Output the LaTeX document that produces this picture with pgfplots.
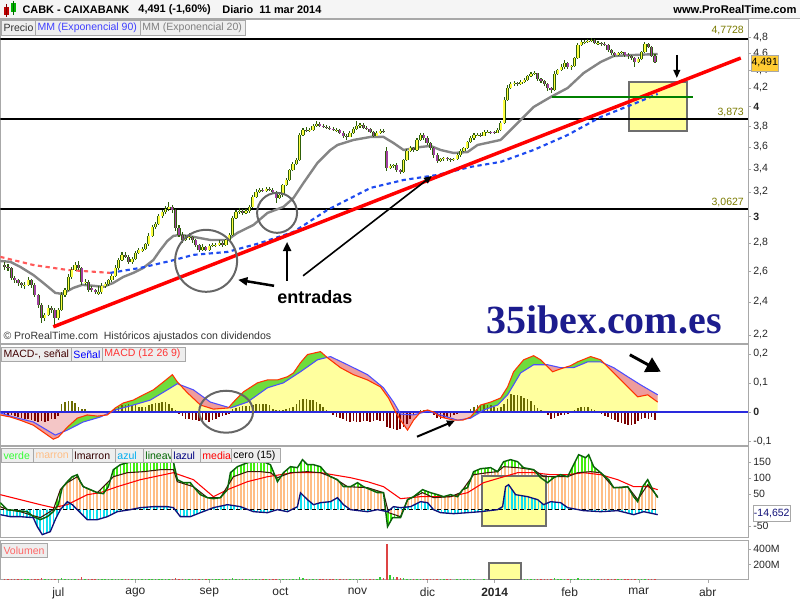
\documentclass[border=0pt]{standalone}
\usepackage{fontspec}
\setmainfont{Liberation Sans}
\newfontfamily\serifb{Liberation Serif}
\usepackage{pgfplots}
\pgfplotsset{compat=1.18}
\usepackage{pgfplotstable}
\usepgfplotslibrary{fillbetween}
\usetikzlibrary{patterns.meta,arrows.meta}
\tikzset{fill between/on layer=main}

\definecolor{wick}{HTML}{2E5E0A}
\definecolor{upc}{HTML}{FFFF40}
\definecolor{dnc}{HTML}{A040A0}
\definecolor{emagray}{HTML}{858585}
\definecolor{emablue}{HTML}{1E4BF0}
\definecolor{emared}{HTML}{FF5A5A}
\definecolor{frame}{HTML}{A8A8A8}
\definecolor{btnbg}{HTML}{EEEEEE}
\definecolor{olivetxt}{HTML}{7A7A00}
\definecolor{histpos}{HTML}{6B6B00}
\definecolor{histneg}{HTML}{7A0000}
\definecolor{macdgreen}{HTML}{6EDC3C}
\definecolor{macdpink}{HTML}{EE9C9C}
\definecolor{macdneg}{HTML}{F4C6C6}
\definecolor{macdyel}{HTML}{FFFF9E}
\definecolor{zeroblue}{HTML}{2A2ADD}
\definecolor{sigblue}{HTML}{4D4DFF}
\definecolor{macdred}{HTML}{FF3300}
\definecolor{peach}{HTML}{FFBE85}
\definecolor{verde}{HTML}{44EE11}
\definecolor{cyanb}{HTML}{11E0F0}
\definecolor{lineavc}{HTML}{0A640A}
\definecolor{lmarronc}{HTML}{3A1A0A}
\definecolor{lazulc}{HTML}{101078}
\definecolor{boxy}{HTML}{FFFF99}
\definecolor{boxb}{HTML}{6E6E6E}
\definecolor{ibex}{HTML}{1C1C8E}
\definecolor{pricebox}{HTML}{FFCC33}
\definecolor{volup}{HTML}{33CC33}
\definecolor{voldn}{HTML}{DD4444}

\newcommand{\lbl}{\fontsize{7.9}{9}\selectfont}

\pgfplotstableread{
i o h l c v
-16 2.640 2.66 2.61 2.629 15
-15 2.629 2.65 2.60 2.622 14
-14 2.622 2.63 2.54 2.554 20
-13 2.554 2.57 2.52 2.541 16
-12 2.541 2.55 2.50 2.521 18
-11 2.521 2.53 2.49 2.508 17
-10 2.500 2.53 2.48 2.508 15
-9 2.508 2.56 2.50 2.541 18
-8 2.541 2.55 2.49 2.508 16
-7 2.508 2.52 2.43 2.443 22
-6 2.443 2.45 2.36 2.380 25
-5 2.380 2.39 2.27 2.300 28
-4 2.300 2.33 2.28 2.318 20
-3 2.318 2.38 2.31 2.361 22
-2 2.361 2.37 2.33 2.349 18
-1 2.349 2.36 2.25 2.300 24
0 2.300 2.36 2.29 2.349 20
1 2.349 2.46 2.34 2.443 30
2 2.443 2.49 2.43 2.475 22
3 2.475 2.58 2.47 2.561 26
4 2.561 2.63 2.55 2.608 24
5 2.608 2.66 2.60 2.643 22
6 2.643 2.67 2.61 2.622 20
7 2.622 2.63 2.51 2.528 45
8 2.520 2.55 2.51 2.528 20
9 2.528 2.54 2.46 2.475 18
10 2.490 2.50 2.46 2.475 16
11 2.475 2.48 2.45 2.462 15
12 2.450 2.50 2.44 2.462 17
13 2.462 2.52 2.45 2.501 18
14 2.501 2.53 2.49 2.515 16
15 2.515 2.55 2.50 2.541 18
16 2.541 2.58 2.53 2.568 20
17 2.568 2.64 2.56 2.622 22
18 2.622 2.69 2.61 2.677 24
19 2.677 2.73 2.67 2.712 20
20 2.712 2.73 2.69 2.698 18
21 2.698 2.71 2.65 2.663 17
22 2.663 2.70 2.65 2.684 16
23 2.684 2.74 2.68 2.726 18
24 2.726 2.76 2.72 2.748 19
25 2.740 2.77 2.73 2.755 17
26 2.755 2.80 2.75 2.791 20
27 2.791 2.87 2.78 2.851 24
28 2.851 2.93 2.84 2.919 26
29 2.919 2.96 2.90 2.942 22
30 2.942 3.02 2.93 3.004 25
31 3.004 3.05 2.99 3.036 22
32 3.036 3.08 3.02 3.060 20
33 3.060 3.12 3.04 3.076 24
34 3.076 3.09 3.03 3.052 18
35 3.052 3.06 2.89 2.911 30
36 2.911 2.93 2.84 2.858 24
37 2.858 2.88 2.80 2.821 20
38 2.821 2.86 2.81 2.836 18
39 2.836 2.87 2.82 2.843 16
40 2.843 2.85 2.80 2.821 17
41 2.821 2.83 2.77 2.784 18
42 2.784 2.79 2.73 2.748 20
43 2.748 2.79 2.74 2.770 16
44 2.770 2.78 2.74 2.748 15
45 2.748 2.79 2.74 2.777 17
46 2.777 2.80 2.77 2.784 15
47 2.775 2.80 2.77 2.784 14
48 2.784 2.82 2.78 2.799 16
49 2.799 2.81 2.77 2.784 15
50 2.784 2.83 2.78 2.821 18
51 2.821 2.87 2.81 2.858 20
52 2.858 3.00 2.85 2.989 35
53 2.989 3.05 2.98 3.036 25
54 3.036 3.07 3.02 3.044 20
55 3.044 3.06 3.01 3.028 18
56 3.028 3.06 3.02 3.044 17
57 3.044 3.09 3.03 3.076 19
58 3.076 3.17 3.07 3.157 24
59 3.157 3.22 3.15 3.199 22
60 3.199 3.23 3.19 3.216 20
61 3.216 3.23 3.20 3.207 16
62 3.207 3.24 3.20 3.225 17
63 3.225 3.24 3.21 3.216 15
64 3.216 3.23 3.19 3.199 16
65 3.199 3.21 3.11 3.149 22
66 3.149 3.19 3.14 3.174 18
67 3.174 3.27 3.16 3.258 24
68 3.258 3.32 3.25 3.301 22
69 3.301 3.40 3.29 3.389 26
70 3.389 3.46 3.38 3.443 24
71 3.443 3.50 3.43 3.479 22
72 3.479 3.73 3.47 3.714 40
73 3.714 3.78 3.70 3.763 30
74 3.763 3.79 3.74 3.753 20
75 3.753 3.78 3.74 3.763 18
76 3.763 3.82 3.75 3.803 20
77 3.803 3.85 3.79 3.823 19
78 3.823 3.84 3.79 3.803 17
79 3.803 3.82 3.78 3.793 16
80 3.793 3.81 3.77 3.783 15
81 3.783 3.80 3.76 3.773 16
82 3.773 3.79 3.75 3.763 15
83 3.755 3.78 3.74 3.763 14
84 3.763 3.77 3.72 3.734 16
85 3.734 3.75 3.68 3.705 18
86 3.705 3.72 3.67 3.695 17
87 3.695 3.75 3.69 3.734 18
88 3.734 3.79 3.72 3.773 20
89 3.773 3.85 3.76 3.803 22
90 3.803 3.83 3.78 3.813 18
91 3.813 3.83 3.77 3.783 16
92 3.783 3.80 3.76 3.773 15
93 3.773 3.78 3.73 3.743 17
94 3.743 3.75 3.69 3.705 19
95 3.705 3.75 3.70 3.734 18
96 3.734 3.77 3.72 3.753 40
97 3.753 3.77 3.73 3.743 30
98 3.560 3.60 3.38 3.407 460
99 3.407 3.44 3.40 3.425 70
100 3.425 3.44 3.41 3.434 45
101 3.434 3.45 3.37 3.389 40
102 3.389 3.40 3.35 3.372 30
103 3.372 3.49 3.36 3.479 28
104 3.479 3.58 3.47 3.562 25
105 3.562 3.61 3.55 3.590 22
106 3.590 3.60 3.55 3.571 18
107 3.571 3.68 3.56 3.666 22
108 3.666 3.73 3.66 3.714 24
109 3.714 3.73 3.67 3.685 18
110 3.685 3.70 3.62 3.637 20
111 3.637 3.65 3.57 3.590 22
112 3.590 3.60 3.50 3.525 24
113 3.525 3.54 3.45 3.470 22
114 3.470 3.50 3.46 3.488 18
115 3.488 3.51 3.47 3.497 16
116 3.497 3.51 3.47 3.488 15
117 3.488 3.50 3.46 3.479 14
118 3.479 3.50 3.47 3.488 12
119 3.488 3.54 3.48 3.525 16
120 3.525 3.58 3.51 3.562 18
121 3.562 3.60 3.55 3.590 17
122 3.590 3.66 3.58 3.647 22
123 3.647 3.70 3.64 3.685 20
124 3.685 3.73 3.67 3.714 18
125 3.705 3.73 3.70 3.714 10
126 3.714 3.73 3.69 3.705 8
127 3.705 3.76 3.70 3.743 14
128 3.735 3.76 3.73 3.743 10
129 3.743 3.75 3.72 3.734 12
130 3.740 3.75 3.72 3.734 14
131 3.734 3.78 3.73 3.763 18
132 3.763 3.85 3.75 3.833 35
133 3.833 4.10 3.82 4.070 60
134 4.070 4.23 4.06 4.200 45
135 4.200 4.27 4.19 4.245 30
136 4.245 4.28 4.22 4.256 24
137 4.256 4.27 4.22 4.245 20
138 4.245 4.29 4.23 4.267 18
139 4.267 4.31 4.25 4.289 20
140 4.289 4.35 4.28 4.334 22
141 4.334 4.38 4.32 4.357 20
142 4.357 4.39 4.34 4.368 18
143 4.368 4.37 4.28 4.300 24
144 4.300 4.31 4.26 4.278 20
145 4.278 4.29 4.22 4.245 22
146 4.245 4.25 4.17 4.200 24
147 4.200 4.21 4.15 4.178 20
148 4.178 4.39 4.17 4.357 30
149 4.357 4.42 4.34 4.403 24
150 4.403 4.47 4.39 4.437 22
151 4.437 4.52 4.42 4.484 20
152 4.484 4.50 4.42 4.437 22
153 4.437 4.46 4.40 4.449 18
154 4.449 4.56 4.44 4.543 24
155 4.543 4.72 4.53 4.700 30
156 4.700 4.76 4.69 4.737 24
157 4.725 4.76 4.71 4.737 18
158 4.737 4.77 4.72 4.750 17
159 4.750 4.79 4.74 4.762 20
160 4.762 4.77 4.71 4.725 18
161 4.715 4.75 4.70 4.725 15
162 4.725 4.74 4.69 4.713 16
163 4.713 4.74 4.69 4.700 14
164 4.700 4.71 4.62 4.639 22
165 4.639 4.65 4.58 4.603 20
166 4.603 4.62 4.56 4.579 18
167 4.579 4.62 4.57 4.603 16
168 4.603 4.63 4.59 4.615 15
169 4.615 4.62 4.56 4.579 17
170 4.579 4.60 4.53 4.567 18
171 4.567 4.58 4.52 4.543 19
172 4.543 4.55 4.44 4.496 24
173 4.496 4.55 4.48 4.531 20
174 4.531 4.63 4.52 4.615 22
175 4.615 4.74 4.60 4.713 24
176 4.713 4.73 4.66 4.676 20
177 4.676 4.69 4.56 4.564 22
178 4.564 4.59 4.48 4.491 24
}\candles

\pgfplotstableread{
i p
-17.31 2.670
-14.33 2.664
-11.34 2.629
-7.46 2.574
-4.48 2.521
-0.90 2.456
1.19 2.449
4.48 2.488
7.16 2.508
10.45 2.502
13.43 2.495
16.42 2.521
19.40 2.561
22.39 2.588
25.37 2.622
28.36 2.677
30.45 2.748
32.54 2.814
34.33 2.851
36.42 2.859
40.30 2.844
45.37 2.821
50.45 2.821
53.43 2.874
58.21 2.934
62.39 3.028
67.16 3.076
70.15 3.149
73.13 3.275
77.31 3.452
81.19 3.571
83.28 3.618
88.06 3.666
93.13 3.695
97.01 3.695
100.00 3.637
102.99 3.571
108.06 3.599
111.04 3.609
114.03 3.571
117.91 3.543
122.09 3.552
125.07 3.618
131.94 3.666
132.84 3.695
137.01 3.832
141.79 3.997
146.87 4.102
151.94 4.200
156.72 4.368
161.79 4.496
165.67 4.567
171.64 4.579
178.81 4.591
}\emaA

\pgfplotstableread{
i p
-17.31 2.699
-7.46 2.642
2.69 2.608
15.52 2.588
24.48 2.622
33.43 2.670
40.30 2.713
50.45 2.734
60.30 2.799
70.15 2.881
80.30 3.052
93.13 3.233
102.99 3.301
113.13 3.345
122.99 3.416
131.94 3.461
141.79 3.571
151.94 3.714
161.79 3.893
171.64 4.028
178.81 4.135
}\emaB

\pgfplotstableread{
i v
-17.31 -0.010
-14.33 -0.017
-11.34 -0.028
-7.46 -0.045
-4.48 -0.069
-1.49 -0.093
0 -0.086
2.69 -0.052
5.67 -0.021
8.66 -0.010
11.64 -0.014
14.63 -0.010
17.01 0.014
19.40 0.031
22.39 0.041
25.37 0.059
28.36 0.076
31.34 0.103
34.03 0.128
35.52 0.103
38.51 0.066
42.39 0.024
46.27 0.010
50.75 0.014
52.24 0.034
55.22 0.069
59.40 0.100
62.39 0.110
65.37 0.110
68.36 0.121
70.15 0.134
72.24 0.169
74.33 0.197
78.21 0.207
80.30 0.186
84.18 0.152
88.06 0.128
92.24 0.110
96.12 0.086
98.51 0.048
100.60 0.000
102.09 -0.028
104.18 -0.062
105.97 -0.028
108.06 0.000
110.15 0.007
111.94 0.000
114.03 -0.017
117.91 -0.028
120.60 -0.028
122.99 -0.017
125.97 0.024
128.96 0.034
131.94 0.048
134.03 0.086
135.82 0.138
138.81 0.179
141.79 0.193
143.88 0.179
147.46 0.138
149.85 0.148
152.84 0.159
154.93 0.172
158.81 0.190
161.79 0.179
164.78 0.145
167.76 0.110
172.84 0.052
175.82 0.059
178.81 0.034
}\macd

\pgfplotstableread{
i v
-17.31 -0.003
-13.43 -0.017
-7.46 -0.034
-0.90 -0.079
2.69 -0.062
7.46 -0.034
12.54 -0.017
17.01 0.007
22.39 0.024
27.46 0.041
32.54 0.076
35.52 0.097
40.30 0.076
45.37 0.034
51.34 0.014
56.42 0.034
62.39 0.083
67.16 0.100
72.24 0.138
77.31 0.179
81.19 0.190
86.27 0.162
92.24 0.128
97.01 0.083
100.00 0.034
102.09 -0.007
105.97 -0.010
110.15 0.003
114.03 -0.010
119.10 -0.028
122.99 -0.021
126.87 0.007
131.04 0.024
134.03 0.059
137.91 0.134
141.79 0.162
145.97 0.162
149.85 0.152
153.73 0.152
157.91 0.172
161.79 0.172
165.67 0.152
169.85 0.121
173.73 0.093
178.81 0.059
}\sig

\pgfplotstableread{
i v
-16 -0.006
-15 -0.009
-14 -0.011
-13 -0.014
-12 -0.017
-11 -0.021
-10 -0.023
-9 -0.025
-8 -0.029
-7 -0.032
-6 -0.034
-5 -0.032
-4 -0.034
-3 -0.030
-2 -0.025
-1 -0.023
0 -0.014
1 0.029
2 0.034
3 0.038
4 0.038
5 0.032
6 0.017
7 0.011
8 0.009
9 0.005
10 0.002
11 0.002
12 0.003
13 0.003
14 0.003
15 0.002
16 0.002
17 0.0115
18 0.0172
19 0.0230
20 0.0253
21 0.0287
22 0.0230
23 0.0230
24 0.0172
25 0.0172
26 0.0172
27 0.0253
28 0.0287
29 0.0322
30 0.0322
31 0.0345
32 0.0345
33 0.0287
34 0.0138
35 0.0057
36 -0.0057
37 -0.0138
38 -0.0230
39 -0.0253
40 -0.0287
41 -0.0287
42 -0.0322
43 -0.0322
44 -0.0287
45 -0.0345
46 -0.0287
47 -0.0230
48 -0.0172
49 -0.0138
50 -0.0092
51 -0.0057
52 0.0092
53 0.0138
54 0.0172
55 0.0207
56 0.0207
57 0.0207
58 0.0253
59 0.0287
60 0.0287
61 0.0287
62 0.0287
63 0.0253
64 0.0115
65 0.0057
66 0.0057
67 0.0057
68 0.0092
69 0.0138
70 0.0172
71 0.0287
72 0.0402
73 0.0460
74 0.0437
75 0.0402
76 0.0402
77 0.0345
78 0.0287
79 0.0172
80 0.0057
81 -0.0034
82 -0.0115
83 -0.0172
84 -0.0207
85 -0.0253
86 -0.0322
87 -0.0345
88 -0.0322
89 -0.0345
90 -0.0345
91 -0.0322
92 -0.0322
93 -0.0345
94 -0.0322
95 -0.0287
96 -0.0322
97 -0.0322
98 -0.0517
99 -0.0552
100 -0.0575
101 -0.0632
102 -0.0575
103 -0.0517
104 -0.0402
105 -0.0230
106 -0.0115
107 0.0034
108 0.0057
109 0.0057
110 0.0057
111 0.0034
112 -0.0115
113 -0.0207
114 -0.0230
115 -0.0207
116 -0.0172
117 -0.0172
118 -0.0115
119 -0.0057
120 0.002
121 0.003
122 0.005
123 0.0115
124 0.0172
125 0.0230
126 0.0253
127 0.0287
128 0.0253
129 0.0230
130 0.0172
131 0.0138
132 0.0172
133 0.0287
134 0.0460
135 0.0632
136 0.0598
137 0.0575
138 0.0552
139 0.0483
140 0.0437
141 0.0368
142 0.0253
143 0.0138
144 0.0057
146 -0.0115
147 -0.0230
148 -0.0207
149 -0.0138
150 -0.0092
151 -0.0092
152 -0.0057
154 0.0057
155 0.0138
156 0.0172
157 0.0172
158 0.0172
159 0.0115
160 0.0057
162 -0.0057
163 -0.0138
164 -0.0172
165 -0.0253
166 -0.0287
167 -0.0345
168 -0.0368
169 -0.0402
170 -0.0437
171 -0.0460
172 -0.0402
173 -0.0322
174 -0.0230
175 -0.0207
176 -0.0230
177 -0.0172
178 -0.0287
}\hist

\pgfplotstableread{
i v
-17.31 21.9
-15.22 0
-9.25 -6.3
-7.46 -21.9
-5.37 -31.3
-3.28 -21.9
-1.49 -6.3
0 15.6
1.19 68.8
2.69 87.5
4.18 103.1
5.67 109.4
6.57 87.5
7.46 71.9
9.55 62.5
11.64 53.1
13.43 50
14.93 71.9
16.42 125
18.51 140.6
20.60 146.9
22.39 150
24.48 156.3
27.46 156.3
32.54 156.3
34.33 150
35.52 93.8
37.31 84.4
39.40 84.4
40.30 71.9
42.39 46.9
44.48 37.5
46.27 34.4
48.36 37.5
50.45 62.5
51.34 115.6
53.43 134.4
56.42 146.9
58.21 150
61.19 150
63.28 140.6
64.78 103.1
65.37 87.5
67.16 115.6
69.25 134.4
71.34 131.3
72.84 156.3
74.33 140.6
76.12 140.6
78.21 134.4
79.70 115.6
81.19 103.1
83.28 93.8
85.07 71.9
87.16 71.9
89.25 84.4
91.04 71.9
93.13 62.5
95.22 53.1
97.01 53.1
98.21 -53.1
99.70 -25
102.09 -25
104.18 31.3
105.97 40.6
108.66 62.5
111.04 53.1
113.13 46.9
114.93 40.6
117.01 46.9
119.10 40.6
120.60 62.5
122.09 68.8
123.88 118.8
125.97 128.1
128.96 131.3
131.04 118.8
132.84 150
134.93 156.3
137.01 150
138.81 131.3
141.79 125
143.88 100
145.97 84.4
147.76 100
149.85 109.4
151.94 103.1
153.73 140.6
155.22 171.9
157.31 162.5
158.21 171.9
159.70 134.4
161.79 115.6
164.18 93.8
165.67 68.8
167.76 68.8
169.85 71.9
171.64 40.6
172.84 25
174.33 71.9
175.82 93.8
177.31 62.5
178.81 37.5
}\lineav

\pgfplotstableread{
i v
-17.31 9.4
-15.22 0
-11.34 -6.3
-7.46 -18.8
-5.37 -25
-1.49 0
0.60 62.5
2.69 84.4
5.67 103.1
7.46 71.9
11.64 53.1
16.42 103.1
20.60 115.6
25.37 118.8
30.45 125
34.33 125
35.52 87.5
40.30 71.9
44.48 37.5
48.36 37.5
52.24 103.1
56.42 118.8
60.30 118.8
63.28 115.6
65.37 100
69.25 115.6
74.33 118.8
78.21 115.6
82.09 100
86.27 71.9
92.24 68.8
97.01 53.1
98.51 -9.4
102.09 -21.9
104.18 31.3
108.66 53.1
111.94 37.5
117.01 40.6
120.00 53.1
123.88 109.4
128.06 115.6
131.04 118.8
132.84 134.4
137.01 131.3
141.79 125
144.78 103.1
147.76 103.1
151.94 103.1
154.93 115.6
158.81 118.8
161.79 115.6
165.67 68.8
169.85 71.9
172.84 31.3
175.82 78.1
178.81 40.6
}\lmarron

\pgfplotstableread{
i v
-17.31 46.9
-11.34 31.3
-5.37 15.6
-1.49 6.3
2.69 15.6
8.66 46.9
12.54 53.1
17.61 71.9
24.48 93.8
34.33 115.6
40.30 93.8
46.27 40.6
50.45 62.5
56.42 87.5
62.39 103.1
70.15 115.6
78.21 115.6
87.16 100
92.24 87.5
97.01 71.9
102.09 34.4
108.06 40.6
117.01 40.6
122.09 53.1
126.87 84.4
131.94 100
137.01 115.6
141.79 115.6
146.87 109.4
151.94 109.4
156.72 115.6
161.79 109.4
166.87 93.8
171.64 71.9
175.82 71.9
178.81 62.5
}\media

\pgfplotstableread{
i v
-17.31 -15.6
-14.33 -21.9
-11.34 -21.9
-7.46 -25
-6.27 -53.1
-4.78 -78.1
-2.39 -68.8
-0.90 -31.3
0.60 0
2.69 25
4.18 15.6
5.67 0
8.66 -31.3
11.64 -31.3
14.63 -21.9
17.61 -6.3
21.49 0
24.48 6.3
28.36 9.4
32.54 9.4
34.33 6.3
36.42 -21.9
39.40 -21.9
42.39 -9.4
46.27 6.3
50.45 15.6
54.33 9.4
58.21 -6.3
62.39 -9.4
65.37 0
68.36 -6.3
71.34 9.4
72.24 53.1
74.33 31.3
76.12 15.6
78.21 21.9
81.19 25
83.28 37.5
85.07 15.6
87.16 0
92.24 -6.3
95.22 0
98.21 -6.3
100.00 9.4
102.09 6.3
105.07 9.4
108.06 25
110.15 21.9
111.94 0
114.03 -9.4
117.91 -12.5
122.09 -9.4
125.97 -6.3
131.04 0
132.54 9.4
133.43 71.9
134.33 78.1
136.42 46.9
140.00 40.6
142.99 31.3
144.78 15.6
146.87 25
149.85 21.9
151.94 6.3
156.72 -3.1
161.79 -6.3
166.87 -3.1
171.64 -15.6
174.63 -6.3
178.81 -15.6
}\lazul

\pgfplotstableread{
i p
-17.31 4.7728
205.67 4.7728
}\lvlA
\pgfplotstableread{
i p
-17.31 3.873
205.67 3.873
}\lvlB
\pgfplotstableread{
i p
-17.31 3.0627
205.67 3.0627
}\lvlC
\pgfplotstableread{
i p
-1.49 2.247
203.58 4.543
}\trend
\pgfplotstableread{
i p
147.37 4.102
189.46 4.102
}\support

\pgfplotsset{
  panel/.style={scale only axis, width=561pt, xmin=-17.31, xmax=205.67,
    axis line style={draw=frame}, xtick=\empty, ytick pos=right,
    yticklabel pos=right, tick align=outside, major tick length=2.5pt,
    minor tick num=0, tick style={draw=frame},
    yticklabel style={font=\lbl, text=black!85, inner sep=1.5pt},
    clip=true},
  upc/.style={restrict expr to domain={\thisrow{c}-\thisrow{o}}{0:100}},
  dnc/.style={restrict expr to domain={\thisrow{o}-\thisrow{c}}{0.00001:100}},
  candle/.style={draw=none, mark=none, forget plot},
}

\newcommand{\btn}[6]{\draw[frame, fill=btnbg] (#1,#3) rectangle (#2,#4);
  \node[anchor=west, inner sep=0, text=#5, font=\lbl] at ({#1+2},{(#3+#4)/2}) {#6};}

\begin{document}
\begin{tikzpicture}
\begin{scope}[x=0.75pt,y=-0.75pt]
\path (0,0) rectangle (800,600);
\end{scope}

% ---------------- price panel (log price scale: data given as prices, plotted as ln)
\begin{axis}[panel, at={(0pt,-14.25pt)}, anchor=north west, height=243pt,
  ymin=0.7678, ymax=1.6158,
  ytick={0.7885,0.8755,0.9555,1.0296,1.0986,1.1632,1.2238,1.2809,1.3350,1.3863,1.4351,1.4816,1.5261,1.5686},
  yticklabels={{2,2},{2,4},{2,6},{2,8},\textbf{3},{3,2},{3,4},{3,6},{3,8},\textbf{4},{4,2},{4,4},{4,6},{4,8}}]
\draw[boxb, line width=1.5pt, fill=boxy] (axis cs:170.36,1.4509) rectangle (axis cs:187.46,1.3226);
\addplot[black, line width=1.6pt] table[x=i, y expr=ln(\thisrow{p})]{\lvlA};
\addplot[black, line width=0.8pt] table[x=i, y expr=ln(\thisrow{p})]{\lvlB};
\addplot[black, line width=1.6pt] table[x=i, y expr=ln(\thisrow{p})]{\lvlC};
\addplot[emagray, line width=1.8pt] table[x=i, y expr=ln(\thisrow{p})]{\emaA};
\addplot[emared, line width=1.6pt, dash pattern=on 3.2pt off 2.6pt, restrict x to domain=-20:15.6] table[x=i, y expr=ln(\thisrow{p})]{\emaB};
\addplot[emablue, line width=1.6pt, dash pattern=on 3.2pt off 2.6pt, restrict x to domain=15.5:200] table[x=i, y expr=ln(\thisrow{p})]{\emaB};
% wicks
\addplot[candle, error bars/.cd, y dir=both, y explicit, error mark=none,
  error bar style={draw=wick, line width=0.8pt}]
  table[x=i, y expr=ln(\thisrow{c}), y error plus expr=ln(\thisrow{h})-ln(\thisrow{c}), y error minus expr=ln(\thisrow{c})-ln(\thisrow{l})]{\candles};
% up bodies
\addplot[candle, upc, error bars/.cd, y dir=both, y explicit, error mark=none,
  error bar style={draw=wick, line width=2.4pt}]
  table[x=i, y expr=ln(\thisrow{c}), y error plus expr=0, y error minus expr=ln(\thisrow{c})-ln(\thisrow{o})]{\candles};
\addplot[candle, upc, error bars/.cd, y dir=both, y explicit, error mark=none,
  error bar style={draw=upc, line width=1.2pt}]
  table[x=i, y expr=ln(\thisrow{c}), y error plus expr=0, y error minus expr=ln(\thisrow{c})-ln(\thisrow{o})]{\candles};
% down bodies
\addplot[candle, dnc, error bars/.cd, y dir=both, y explicit, error mark=none,
  error bar style={draw=wick, line width=2.4pt}]
  table[x=i, y expr=ln(\thisrow{c}), y error plus expr=ln(\thisrow{o})-ln(\thisrow{c}), y error minus expr=0]{\candles};
\addplot[candle, dnc, error bars/.cd, y dir=both, y explicit, error mark=none,
  error bar style={draw=dnc, line width=1.2pt}]
  table[x=i, y expr=ln(\thisrow{c}), y error plus expr=ln(\thisrow{o})-ln(\thisrow{c}), y error minus expr=0]{\candles};
\addplot[red, line width=2.6pt] table[x=i, y expr=ln(\thisrow{p})]{\trend};
\addplot[green!50!black, line width=2.2pt] table[x=i, y expr=ln(\thisrow{p})]{\support};
\end{axis}

% ---------------- MACD panel
\begin{axis}[panel, at={(0pt,-258pt)}, anchor=north west, height=76.5pt,
  ymin=-0.1154, ymax=0.2339, ytick={-0.1,0,0.1,0.2},
  yticklabels={{-0,1},\textbf{0},{0,1},{0,2}}]
\addplot[draw=none, fill=macdyel, forget plot, y filter/.expression={max(y,0)}] table[x=i,y=v]{\sig} \closedcycle;
\addplot[draw=none, fill=macdneg, forget plot, y filter/.expression={min(y,0)}] table[x=i,y=v]{\sig} \closedcycle;
\addplot[draw=none, name path=macdp, forget plot] table[x=i,y=v]{\macd};
\addplot[draw=none, name path=sigp, forget plot] table[x=i,y=v]{\sig};
\addplot[draw=none] fill between[of=macdp and sigp, split,
  every even segment/.style={fill=macdpink}, every odd segment/.style={fill=macdgreen}];
\addplot[ycomb, histpos, line width=1.2pt, restrict expr to domain={\thisrow{v}}{0:1}] table[x=i,y=v]{\hist};
\addplot[ycomb, histneg, line width=1.2pt, restrict expr to domain={\thisrow{v}}{-1:-0.00001}] table[x=i,y=v]{\hist};
\addplot[zeroblue, line width=1.6pt] coordinates {(-17.31,0) (205.67,0)};
\addplot[sigblue, line width=0.8pt] table[x=i,y=v]{\sig};
\addplot[macdred, line width=0.8pt] table[x=i,y=v]{\macd};
\end{axis}

% ---------------- indicator panel
\begin{axis}[panel, at={(0pt,-335.25pt)}, anchor=north west, height=68.25pt,
  ymin=-87.5, ymax=196.9, ytick={-50,50,100,150},
  yticklabels={-50,50,100,150}]
\addplot[draw=none, name path=lav, forget plot] table[x=i,y=v]{\lineav};
\addplot[draw=none, name path=lma, forget plot] table[x=i,y=v]{\lmarron};
\addplot[draw=none, name path=laz, forget plot] table[x=i,y=v]{\lazul};
\addplot[draw=none, name path=zi, forget plot] coordinates {(-17.31,0) (178.81,0)};
\addplot[draw=none, pattern={Lines[angle=90,distance=2.51pt,line width=1.25pt]}, pattern color=peach] fill between[of=lma and zi];
\addplot[draw=none, pattern={Lines[angle=90,distance=2.51pt,line width=1.25pt]}, pattern color=verde] fill between[of=lav and lma];
\draw[boxb, line width=1.5pt, fill=boxy] (axis cs:126.27,106.3) rectangle (axis cs:145.37,-50);
\addplot[draw=none, pattern={Lines[angle=90,distance=2.51pt,line width=1.25pt]}, pattern color=cyanb] fill between[of=laz and zi];
\addplot[black, line width=0.9pt, dash pattern=on 3pt off 2.2pt] coordinates {(-17.31,0) (178.81,0)};
\addplot[red, line width=0.8pt] table[x=i,y=v]{\media};
\addplot[lmarronc, line width=0.8pt] table[x=i,y=v]{\lmarron};
\addplot[lineavc, line width=1.1pt] table[x=i,y=v]{\lineav};
\addplot[lazulc, line width=1.0pt] table[x=i,y=v]{\lazul};
\end{axis}

% ---------------- volume panel
\begin{axis}[panel, at={(0pt,-405.75pt)}, anchor=north west, height=29.25pt,
  ymin=12.5, ymax=500, ytick={200,400}, yticklabels={200M,400M},
  xtick={0,22.99,45.07,66.27,89.25,110.15,130.15,152.54,173.13,193.73},
  xticklabels={jul,ago,sep,oct,nov,dic,\textbf{2014},feb,mar,abr},
  xtick pos=bottom, xticklabel style={font=\fontsize{9}{10}\selectfont, text=black!85}]
\addplot[ycomb, volup, line width=1.1pt, upc] table[x=i,y=v]{\candles};
\addplot[ycomb, voldn, line width=1.1pt, dnc] table[x=i,y=v]{\candles};
\draw[boxb, line width=1.5pt, fill=boxy] (axis cs:128.36,12.5) rectangle (axis cs:137.91,225);
\end{axis}

\begin{scope}[x=0.75pt,y=-0.75pt]
% ---------------- title bar and labels
\fill[btnbg!60] (0,0) rectangle (800,18);
\draw[frame] (0,18.5) -- (800,18.5);
\fill[red!75!black] (4,7) rectangle (9,15); \draw[red!50!black] (6.5,4) -- (6.5,17);
\fill[green!70!black] (11,3) rectangle (16,12); \draw[green!40!black] (13.5,1) -- (13.5,15);
\node[anchor=west, inner sep=0, font=\bfseries\fontsize{8.2}{10}\selectfont] at (22,10) {CABK - CAIXABANK};
\node[anchor=west, inner sep=0, font=\bfseries\fontsize{8.2}{10}\selectfont] at (138,10) {4,491 (-1,60\%)};
\node[anchor=west, inner sep=0, font=\bfseries\fontsize{8.2}{10}\selectfont] at (222,10) {Diario\ \ 11 mar 2014};
\node[anchor=east, inner sep=0, font=\bfseries\fontsize{8.4}{10}\selectfont] at (797,10) {www.ProRealTime.com};

\btn{1}{35}{20}{35}{black!80}{Precio}
\btn{35}{140}{20}{35}{blue!75!white}{MM (Exponencial 90)}
\btn{140}{245}{20}{35}{gray}{MM (Exponencial 20)}

\btn{1}{71}{347}{362}{black!75!red}{MACD-, se\~nal}
\btn{71}{102}{347}{362}{blue}{Se\~nal}
\btn{102}{185}{347}{362}{red!80!white}{MACD (12 26 9)}

\btn{1}{33}{449}{463}{green!80!white}{verde}
\btn{33}{72}{449}{463}{peach}{marron}
\btn{72}{115}{449}{463}{black!80!red}{lmarron}
\btn{115}{143}{449}{463}{cyan}{azul}
\btn{143}{171}{449}{463}{green!40!black}{lineav}
\btn{171}{200}{449}{463}{blue!50!black}{lazul}
\btn{200}{231}{449}{463}{red}{media}
\btn{231}{280}{449}{463}{black}{cero (15)}

\btn{1}{47}{544}{558}{red!60!white}{Volumen}

\node[anchor=south east, inner sep=0.5pt, text=olivetxt, font=\lbl] at (745,36) {4,7728};
\node[anchor=south east, inner sep=0.5pt, text=olivetxt, font=\lbl] at (745,118) {3,873};
\node[anchor=south east, inner sep=0.5pt, text=olivetxt, font=\lbl] at (745,208) {3,0627};
\draw[frame, fill=pricebox] (751,55) rectangle (779,71);
\node[inner sep=0, font=\lbl] at (765,63) {4,491};
\draw[frame, fill=white] (753,506) rectangle (791,522);
\node[inner sep=0, font=\lbl, text=lazulc] at (772,514) {-14,652};

\node[anchor=west, inner sep=0, font=\lbl, text=black!80] at (3,337) {© ProRealTime.com\ \ Históricos ajustados con dividendos};
\node[anchor=base west, inner sep=0, font=\serifb\bfseries\fontsize{30}{32}\selectfont, text=ibex] at (486,334) {35ibex.com.es};
\node[anchor=base west, inner sep=0, font=\bfseries\fontsize{13.5}{15}\selectfont] at (277,304) {entradas};

% annotations
\draw[black!60, line width=1.5pt] (206,261) circle [radius=31];
\draw[black!60, line width=1.5pt] (277,213) circle [radius=20];
\draw[black!60, line width=1.5pt] (226,412) ellipse [x radius=27, y radius=21];
\draw[line width=1.9pt, -{Triangle[length=7pt,width=6pt]}] (274,286) -- (238,280);
\draw[line width=1.9pt, -{Triangle[length=7pt,width=6pt]}] (287,281) -- (287,242);
\draw[line width=1.2pt, -{Triangle[length=6pt,width=5pt]}] (303,276) -- (432,176);
\draw[line width=1.2pt, -{Triangle[length=6pt,width=5pt]}] (677,55) -- (677,78);
\draw[line width=1.5pt, -{Triangle[length=6pt,width=5pt]}] (417,437) -- (455,421);
\draw[line width=2.2pt, -{Triangle[length=11pt,width=12pt]}] (630,355) -- (661,372);
\path[use as bounding box] (0,0) rectangle (800,600);
\end{scope}
\end{tikzpicture}
\end{document}
